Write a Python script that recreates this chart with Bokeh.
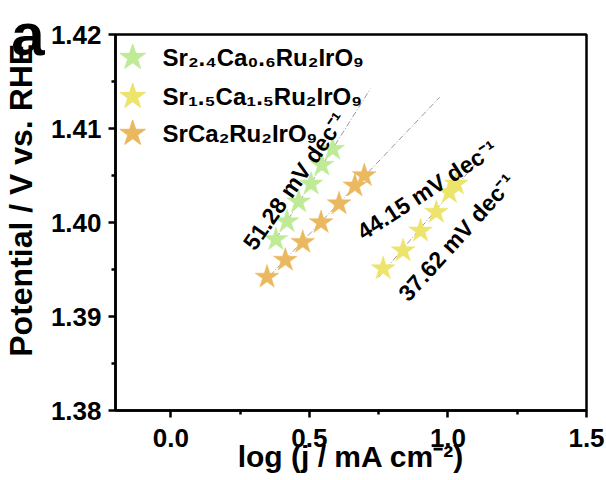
import math
import numpy as np
from bokeh.plotting import figure
from bokeh.models import Label, FixedTicker, Range1d, LinearAxis
from bokeh.embed import file_html
from bokeh.resources import INLINE

# ---- data ----
series_names = ["Sr₂.₄Ca₀.₆Ru₂IrO₉", "Sr₁.₅Ca₁.₅Ru₂IrO₉", "SrCa₂Ru₂IrO₉"]
series_colors = ["#bfeb96", "#ede46b", "#eab95f"]

green_x = [0.379, 0.419, 0.461, 0.506, 0.545, 0.584]
green_y = [1.3982, 1.4001, 1.4022, 1.4041, 1.4061, 1.4078]

yellow_x = [0.766, 0.838, 0.901, 0.958, 1.005, 1.030]
yellow_y = [1.3951, 1.3970, 1.3991, 1.4011, 1.4032, 1.4041]

orange_x = [0.347, 0.413, 0.476, 0.542, 0.607, 0.664, 0.698]
orange_y = [1.3942, 1.3960, 1.3979, 1.4000, 1.4020, 1.4039, 1.4050]

# extent of each fitted line (x)
green_fit_x = [0.36, 0.72]
yellow_fit_x = [0.75, 1.10]
orange_fit_x = [0.33, 0.97]

slope_labels = ["51.28 mV dec⁻¹", "37.62 mV dec⁻¹", "44.15 mV dec⁻¹"]
slope_label_x = [0.447, 1.032, 0.925]
slope_label_y = [1.4044, 1.39840, 1.40345]
slope_label_angle_deg = [55, 48, 33]

x_ticks = [0.0, 0.5, 1.0, 1.5]
y_ticks = [1.38, 1.39, 1.40, 1.41, 1.42]

FONT = "Liberation Sans"

p = figure(width=606, height=480, output_backend="svg", toolbar_location=None,
           x_range=Range1d(-0.2, 1.5), y_range=Range1d(1.38, 1.42),
           min_border_left=113, min_border_right=20, min_border_top=34, min_border_bottom=70)
p.background_fill_color = "white"
p.border_fill_color = "white"
p.grid.visible = False
p.outline_line_color = "black"
p.outline_line_width = 2.5

for ax in (p.xaxis[0], p.yaxis[0]):
    ax.axis_line_width = 2.5
    ax.major_tick_line_width = 2.5
    ax.minor_tick_line_width = 2.5
    ax.major_tick_in = 0
    ax.major_tick_out = 7
    ax.minor_tick_in = 0
    ax.minor_tick_out = 4
    ax.major_label_text_font = FONT
    ax.major_label_text_font_style = "bold"
    ax.major_label_text_font_size = "26px"
    ax.major_label_text_color = "black"
    ax.axis_label_text_font = FONT
    ax.axis_label_text_font_style = "bold"
    ax.axis_label_text_color = "black"

p.xaxis.axis_label_text_font_size = "30px"
p.xaxis.ticker = FixedTicker(ticks=x_ticks, minor_ticks=[0.25, 0.75, 1.25])
p.yaxis.ticker = FixedTicker(ticks=y_ticks, minor_ticks=[1.385, 1.395, 1.405, 1.415])
p.xaxis.major_label_overrides = {t: f"{t:.1f}" for t in x_ticks}
p.yaxis.major_label_overrides = {t: f"{t:.2f}" for t in y_ticks}
p.xaxis.axis_label = "log (j / mA cm⁻²)"
p.xaxis.major_label_standoff = 11
p.xaxis.axis_label_standoff = -10
p.yaxis.major_label_standoff = 7

# outer left axis: carries the panel letter "a" (as its only tick label) and the y title
outer = LinearAxis(ticker=FixedTicker(ticks=[1.42], minor_ticks=[]),
                   major_label_overrides={1.42: "a"},
                   axis_line_color=None, major_tick_line_color=None, minor_tick_line_color=None,
                   major_tick_in=0, major_tick_out=0, minor_tick_in=0, minor_tick_out=0,
                   major_label_standoff=3,
                   major_label_text_font=FONT, major_label_text_font_style="bold",
                   major_label_text_font_size="60px", major_label_text_color="black",
                   axis_label="\u00a0\u00a0\u00a0\u00a0\u00a0Potential / V vs. RHE",
                   axis_label_standoff=-31,
                   axis_label_text_font=FONT, axis_label_text_font_style="bold",
                   axis_label_text_font_size="32px", axis_label_text_color="black")
p.add_layout(outer, "left")

xs = [green_x, yellow_x, orange_x]
ys = [green_y, yellow_y, orange_y]
fits = [green_fit_x, yellow_fit_x, orange_fit_x]

# fitted lines (least squares through each series)
for sx, sy, fx in zip(xs, ys, fits):
    k, b = np.polyfit(sx, sy, 1)
    p.line(fx, [k * v + b for v in fx], line_color="#9a9a9a", line_width=1,
           line_dash="6 2 1 2")

for sx, sy, c in zip(xs, ys, series_colors):
    p.scatter(sx, sy, marker="star", size=25, fill_color=c, line_color=c, line_width=0.5)

# slope annotations
for t, tx, ty, a in zip(slope_labels, slope_label_x, slope_label_y, slope_label_angle_deg):
    p.add_layout(Label(x=tx, y=ty, text=t, angle=math.radians(a), text_align="center",
                       text_baseline="middle", text_font=FONT, text_font_style="bold",
                       text_font_size="23px", text_color="black"))

# legend (drawn manually so the star symbols match the reference size)
leg_star_x = -0.138
leg_text_x = -0.030
leg_y = [1.41755, 1.41340, 1.40947]
for name, c, ly in zip(series_names, series_colors, leg_y):
    p.scatter([leg_star_x], [ly], marker="star", size=27, fill_color=c, line_color=c)
    p.add_layout(Label(x=leg_text_x, y=ly, text=name, text_align="left",
                       text_baseline="middle", text_font=FONT, text_font_style="bold",
                       text_font_size="24px", text_color="black"))

open("out.html", "w").write(file_html(p, INLINE))
